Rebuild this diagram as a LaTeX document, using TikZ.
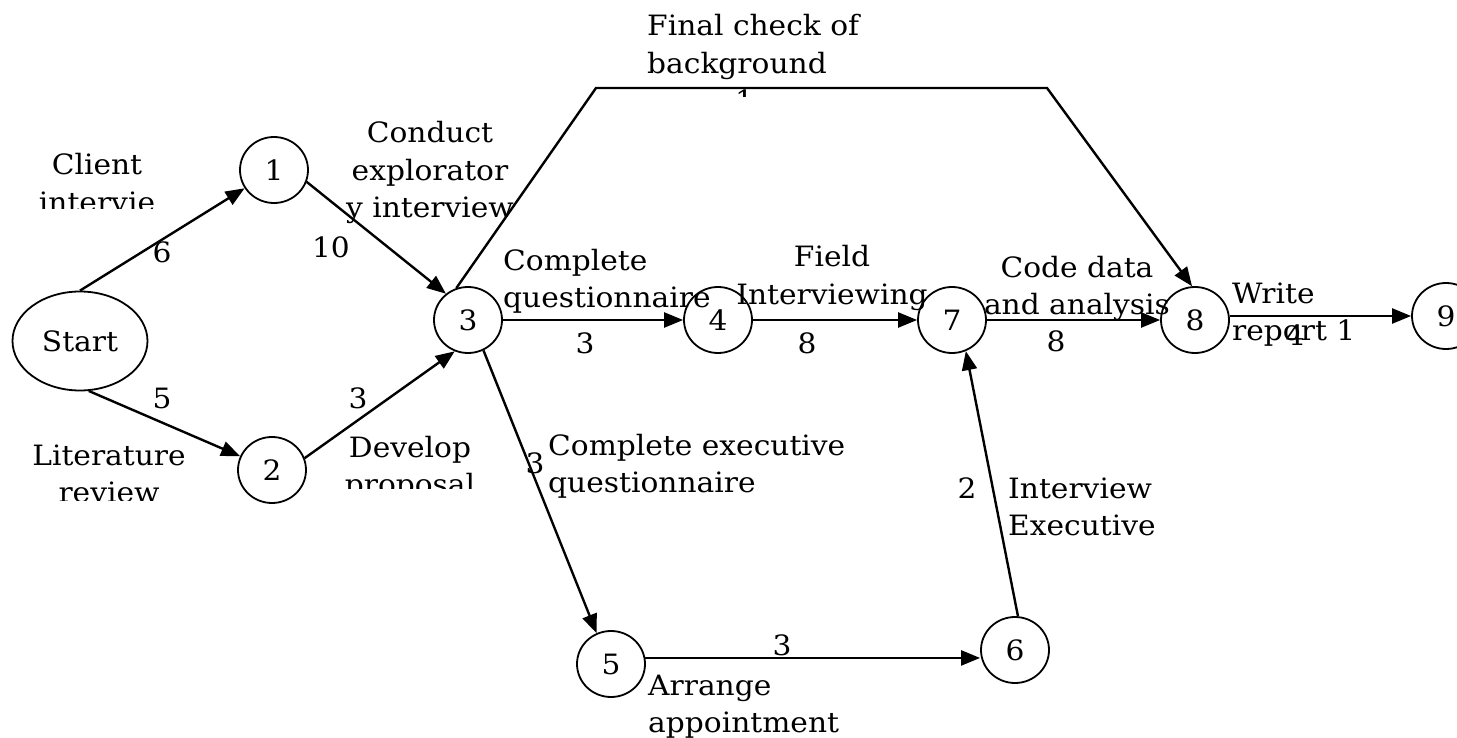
\documentclass[tikz,border=0pt]{standalone}
\usepackage{fontspec}
\setmainfont{DejaVu Serif}[FakeStretch=1.06]
\usetikzlibrary{arrows.meta,shapes.geometric}
\newcommand{\ltext}[1]{\begin{tabular}[t]{@{}l@{}}#1\end{tabular}}
\newcommand{\ctext}[1]{\begin{tabular}[t]{@{}c@{}}#1\end{tabular}}
\begin{document}
\begin{tikzpicture}[x=1pt,y=-1pt,
  every node/.style={font=\fontsize{28}{37.5}\selectfont, inner sep=0pt},
  ev/.style={draw, line width=1.8pt, ellipse, minimum width=68pt, minimum height=66pt},
  arr/.style={line width=2.4pt, -{Triangle[length=19pt,width=15pt]}},
  lab/.style={anchor=base},
  ltx/.style={anchor=base west}]
\useasboundingbox (0,0) rectangle (1457,738);
% event nodes
\node[ev, minimum width=135pt, minimum height=99pt] (s) at (80,341) {Start};
\node[ev] (n1) at (274,170) {1};
\node[ev] (n2) at (272,470) {2};
\node[ev] (n3) at (468,320) {3};
\node[ev] (n4) at (718,320) {4};
\node[ev] (n7) at (952,320) {7};
\node[ev] (n8) at (1195,320) {8};
\node[ev] (n9) at (1446,316) {9};
\node[ev] (n5) at (611,664) {5};
\node[ev] (n6) at (1015,650) {6};
% connectors
\coordinate (tl) at (596,88);
\coordinate (tr) at (1047,88);
\draw[arr] (s.north) -- (n1);
\draw[arr] (s.-80) -- (n2);
\draw[arr] (n1.-20) -- (n3.130);
\draw[arr] (n2.20) -- (n3.-113);
\draw[arr] (n3.110) -- (tl) -- (tr) -- (n8.95);
\draw[arr] (n3) -- (n4);
\draw[arr] (n4) -- (n7);
\draw[arr] (n7) -- (n8);
\draw[arr] (n8.east |- n9.west) -- (n9.west);
\draw[arr] (n3.-63) -- (n5.115);
\draw[arr] (n5.10) -- (n5.10 -| n6.west);
\draw[arr] (n6.85) -- (n7.-66);
% labels
\begin{scope}
\clip (0,0) rectangle (300,209);
\node[lab] (t1) at (97,175) {\ctext{Client\\intervie}};
\end{scope}
\node[lab] (d1) at (162,263) {6};
\node[lab] (d2) at (331,258) {10};
\node[lab] (t2) at (430,143) {\ctext{Conduct\\explorator\\y interview}};
\node[lab] (d3) at (162,408) {5};
\node[lab] (d4) at (358,408) {3};
\begin{scope}
\clip (0,420) rectangle (230,500);
\node[lab] (t3) at (109,465) {\ctext{Literature\\review}};
\end{scope}
\begin{scope}
\clip (330,420) rectangle (500,488);
\node[lab] (t4) at (410,457) {\ctext{Develop\\proposal}};
\end{scope}
\begin{scope}
\clip (600,0) rectangle (1000,97);
\node[ltx] (t5) at (647,36) {\ltext{Final check of\\background\\\hspace{88pt}1}};
\end{scope}
\node[ltx] (t6) at (503,270) {\ltext{Complete\\questionnaire}};
\node[lab] (d5) at (585,353) {3};
\node[lab] (t7) at (832,267) {\ctext{Field\\Interviewing}};
\node[lab] (d6) at (807,353) {8};
\node[lab] (t8) at (1077,277) {\ctext{Code data\\and analysis}};
\node[lab] (d7) at (1056,351) {8};
\node[ltx] (t9) at (1232,303) {\ltext{Write\\report 1}};
\node[lab] (d8) at (1295,345) {4};
\node[lab] (d9) at (535,473) {3};
\node[ltx] (t10) at (548,455) {\ltext{Complete executive\\questionnaire}};
\node[lab] (d10) at (967,498) {2};
\node[ltx] (t11) at (1008,498) {\ltext{Interview\\Executive}};
\node[lab] (d11) at (782,655) {3};
\node[ltx] (t12) at (648,695) {\ltext{Arrange\\appointment}};
\end{tikzpicture}
\end{document}
